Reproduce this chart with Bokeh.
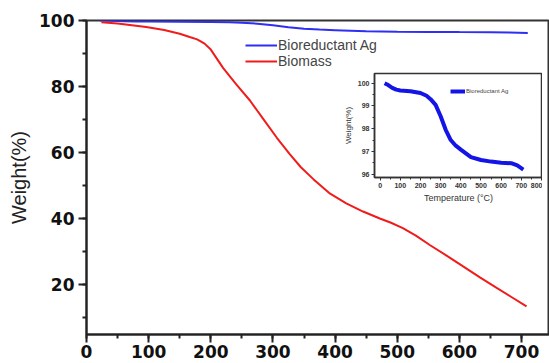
from bokeh.plotting import figure
from bokeh.layouts import column
from bokeh.models import SingleIntervalTicker, Legend, LegendItem
from bokeh.embed import file_html
from bokeh.resources import INLINE

# ---- data ----
temp_bio = [22, 40, 60, 80, 100, 150, 200, 230, 250, 275, 300, 325, 350, 375, 400, 450, 500, 550, 600, 650, 680, 710]
wt_bio = [100.0, 99.92, 99.8, 99.72, 99.68, 99.65, 99.57, 99.45, 99.3, 99.05, 98.55, 97.95, 97.5, 97.25, 97.08, 96.75, 96.62, 96.55, 96.5, 96.48, 96.38, 96.2]

temp_bm = [24, 50, 96, 125, 150, 166, 178, 190, 200, 210, 220, 241, 263, 284, 306, 327, 345, 365, 392, 418, 445, 472, 490, 509, 530, 553, 580, 606, 633, 660, 685, 708]
wt_bm = [99.5, 99.1, 98.0, 97.1, 96.0, 95.0, 94.3, 93.0, 91.2, 88.4, 85.6, 80.7, 75.8, 70.3, 64.6, 59.6, 55.6, 52.0, 47.6, 44.7, 42.2, 40.1, 38.8, 37.2, 34.9, 32.0, 28.8, 25.6, 22.3, 19.1, 16.2, 13.5]

main_yticks = [20, 40, 60, 80, 100]
main_xticks = [0, 100, 200, 300, 400, 500, 600, 700]
inset_yticks = [96, 97, 98, 99, 100]
inset_xticks = [0, 100, 200, 300, 400, 500, 600, 700, 800]

BLUE = "#2e2ef5"
RED = "#f01c1c"
INSET_BLUE = "#1414e6"

# ---- main figure ----
p = figure(width=549, height=363, x_range=(0, 745), y_range=(5, 100),
           output_backend="svg", toolbar_location=None,
           min_border_left=86, min_border_right=0, min_border_top=20, min_border_bottom=29)
p.grid.visible = False
p.outline_line_color = "#333333"
p.outline_line_width = 2
p.background_fill_color = "white"
p.border_fill_color = "white"

l_bio = p.line(temp_bio, wt_bio, line_color=BLUE, line_width=2)
l_bm = p.line(temp_bm, wt_bm, line_color=RED, line_width=2)

for ax in (p.xaxis[0], p.yaxis[0]):
    ax.axis_line_width = 2
    ax.axis_line_color = "#222222"
    ax.major_tick_line_width = 2
    ax.minor_tick_line_width = 2
    ax.major_tick_line_color = "#222222"
    ax.minor_tick_line_color = "#222222"
    ax.major_tick_in = 0
    ax.minor_tick_in = 0
    ax.major_tick_out = 8
    ax.minor_tick_out = 4
    ax.major_label_text_font = "DejaVu Sans"
    ax.major_label_text_font_style = "bold"
    ax.major_label_text_font_size = "17px"
    ax.major_label_text_color = "#111111"

p.xaxis.ticker = SingleIntervalTicker(interval=100, num_minor_ticks=2)
p.yaxis.ticker = SingleIntervalTicker(interval=20, num_minor_ticks=2)
p.xaxis.major_label_standoff = 2
p.yaxis.major_label_standoff = 4
p.yaxis.axis_label = "Weight(%)"
p.yaxis.axis_label_text_font = "Liberation Sans"
p.yaxis.axis_label_text_font_style = "normal"
p.yaxis.axis_label_text_font_size = "20px"
p.yaxis.axis_label_text_color = "#222222"
p.yaxis.axis_label_standoff = 6

leg = Legend(items=[LegendItem(label="Bioreductant Ag", renderers=[l_bio]),
                    LegendItem(label="Biomass", renderers=[l_bm])],
             location=(159, 265), glyph_width=32, glyph_height=14, label_height=14,
             label_standoff=1, spacing=0, padding=0, margin=0,
             label_text_font="Liberation Sans", label_text_font_size="14px",
             border_line_alpha=0, background_fill_alpha=0)
p.add_layout(leg)

# ---- inset figure (column aligns its left border with the main plot's 86px) ----
ins = figure(frame_width=168, frame_height=104, x_range=(-28, 805), y_range=(95.85, 100.43),
             output_backend="svg", toolbar_location=None,
             min_border_left=86, min_border_right=0, min_border_top=5, min_border_bottom=25)
ins.grid.visible = False
ins.outline_line_color = "#333333"
ins.outline_line_width = 1.5
ins.background_fill_alpha = 0
ins.border_fill_alpha = 0
l_ins = ins.line(temp_bio, wt_bio, line_color=INSET_BLUE, line_width=4)
for ax in (ins.xaxis[0], ins.yaxis[0]):
    ax.axis_line_width = 1.5
    ax.axis_line_color = "#333333"
    ax.major_tick_in = 0
    ax.minor_tick_in = 0
    ax.major_tick_out = 3
    ax.minor_tick_out = 2
    ax.major_tick_line_color = "#333333"
    ax.minor_tick_line_color = "#333333"
    ax.major_label_text_font = "Liberation Sans"
    ax.major_label_text_font_style = "bold"
    ax.major_label_text_font_size = "7px"
    ax.major_label_text_color = "#333333"
    ax.major_label_standoff = 2
    ax.axis_label_text_font = "Liberation Sans"
    ax.axis_label_text_font_style = "normal"
    ax.axis_label_text_color = "#333333"
    ax.axis_label_standoff = 2
ins.xaxis.ticker = SingleIntervalTicker(interval=100, num_minor_ticks=2)
ins.yaxis.ticker = SingleIntervalTicker(interval=1, num_minor_ticks=2)
ins.xaxis.axis_label = "Temperature (°C)"
ins.xaxis.axis_label_text_font_size = "9px"
ins.yaxis.axis_label = "Weight(%)"
ins.yaxis.axis_label_text_font_size = "8px"

leg2 = Legend(items=[LegendItem(label="Bioreductant Ag", renderers=[l_ins])],
              location=(76, 82), glyph_width=15, glyph_height=8, label_height=8,
              label_standoff=1, spacing=0, padding=0, margin=0,
              label_text_font="Liberation Sans", label_text_font_size="6px",
              border_line_alpha=0, background_fill_alpha=0)
ins.add_layout(leg2)

ins.styles = {"position": "absolute", "left": "288px", "top": "68px"}

layout = column(p, ins, width=549, height=363)
layout.styles = {"position": "relative"}

open("out.html", "w").write(file_html(layout, INLINE))
